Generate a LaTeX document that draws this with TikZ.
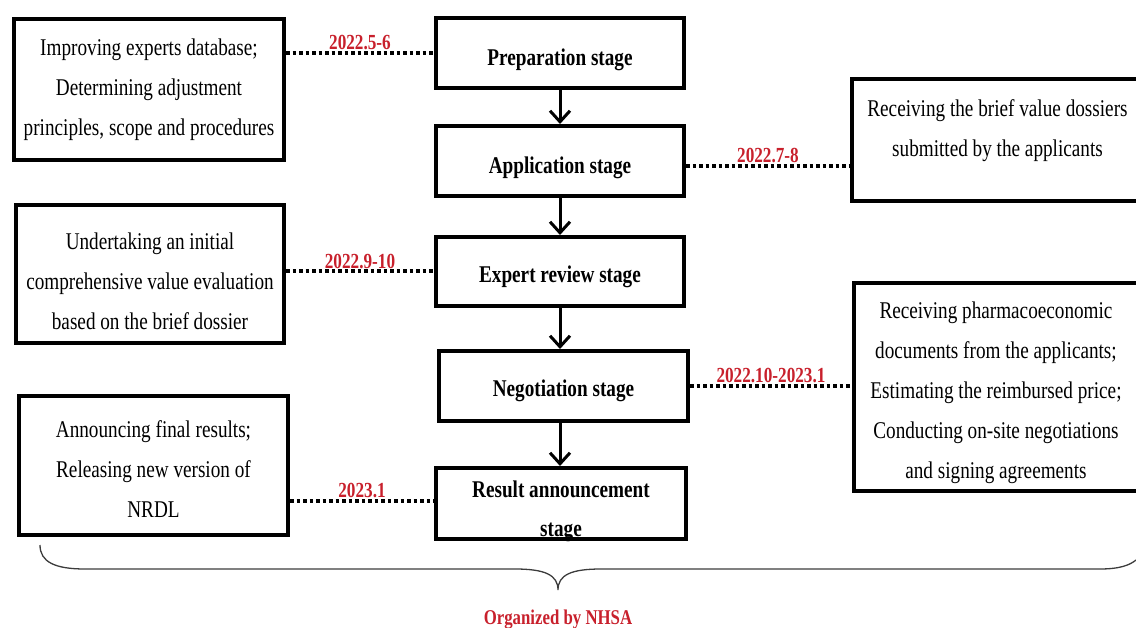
\documentclass[tikz,border=0pt]{standalone}
\usepackage{fontspec}
\setmainfont[FakeStretch=0.8]{Liberation Serif}
\usetikzlibrary{arrows.meta}
\definecolor{lblred}{RGB}{200,32,44}
\definecolor{bracegray}{RGB}{60,60,60}
\begin{document}
\begin{tikzpicture}[x=1pt,y=-1pt,
  box/.style={draw, line width=4pt, align=center, inner sep=0pt, font=\fontsize{24}{40}\selectfont},
  stagebox/.style={box, minimum width=248pt, font=\fontsize{24}{39}\selectfont\bfseries},
  tdown/.style={text height={16.4pt+2*#1}},
  dotline/.style={line width=4pt, dash pattern=on 3.5pt off 3pt},
  datelbl/.style={text=lblred, font=\fontsize{21.5}{24}\selectfont\bfseries, inner sep=1pt, above, midway},
  flow/.style={-{Straight Barb[length=11pt,width=20pt,line width=3pt]}, line width=3pt}
]
\useasboundingbox (0,0) rectangle (1136,628);

% stage boxes
\node[stagebox, minimum height=70pt, tdown=7pt] (prep) at (560,53) {Preparation stage};
\node[stagebox, minimum height=70pt, tdown=7pt] (app) at (560,161) {Application stage};
\node[stagebox, minimum height=69pt, tdown=5pt] (exp) at (560,271.5) {Expert review stage};
\node[stagebox, minimum width=249pt, minimum height=70pt, tdown=5pt] (neg) at (563.5,386) {Negotiation stage};
\node[stagebox, minimum width=250pt, minimum height=71pt, text height=68.6pt, text depth=2.4pt] (res) at (561,503.5) {Result announcement\\stage};

% side boxes
\node[box, minimum width=270pt, minimum height=141pt] (l1) at (149,89.5)
  {Improving experts database;\\Determining adjustment\\principles, scope and procedures};
\node[box, minimum width=268pt, minimum height=138pt, text height=110.4pt] (l2) at (150,274)
  {Undertaking an initial\\comprehensive value evaluation\\based on the brief dossier};
\node[box, minimum width=269pt, minimum height=139pt, text height=104.4pt] (l3) at (153.5,465.5)
  {Announcing final results;\\Releasing new version of\\NRDL};
\node[box, minimum width=291pt, minimum height=122pt, text depth=23pt] (r1) at (997.5,140)
  {Receiving the brief value dossiers\\submitted by the applicants};
\node[box, minimum width=284pt, minimum height=208pt, text height=188.4pt] (r2) at (996,387)
  {Receiving pharmacoeconomic\\documents from the applicants;\\Estimating the reimbursed price;\\Conducting on-site negotiations\\and signing agreements};

% flow arrows
\draw[flow] (prep.south) -- (app.north);
\draw[flow] (app.south) -- (exp.north);
\draw[flow] (exp.south) -- (exp.south |- neg.north);
\draw[flow] (exp.south |- neg.south) -- (exp.south |- res.north);

% dotted connectors with dates
\draw[dotline] (l1.east |- prep.west) -- (prep.west) node[datelbl] {2022.5-6};
\draw[dotline] ([yshift=-5pt]app.east) -- ([yshift=-5pt]app.east -| r1.west) node[datelbl] {2022.7-8};
\draw[dotline] (l2.east |- exp.west) -- (exp.west) node[datelbl] {2022.9-10};
\draw[dotline] (neg.east) -- (neg.east -| r2.west) node[datelbl] {2022.10-2023.1};
\draw[dotline] ([yshift=3pt]l3.east |- res.west) -- ([yshift=3pt]res.west) node[datelbl] {2023.1};

% brace
\draw[bracegray, line width=1.3pt]
  (40,545) .. controls (40,562) and (55,569) .. (85,569) -- (515,569)
  .. controls (545,569) and (558,575) .. (558,590)
  .. controls (558,575) and (571,569) .. (601,569) -- (1100,569)
  .. controls (1120,569) and (1130,565) .. (1136,560);

\node[text=lblred, font=\fontsize{21}{24}\selectfont\bfseries, anchor=base, inner sep=0pt] (org) at (558,624) {Organized by NHSA};
\end{tikzpicture}
\end{document}
